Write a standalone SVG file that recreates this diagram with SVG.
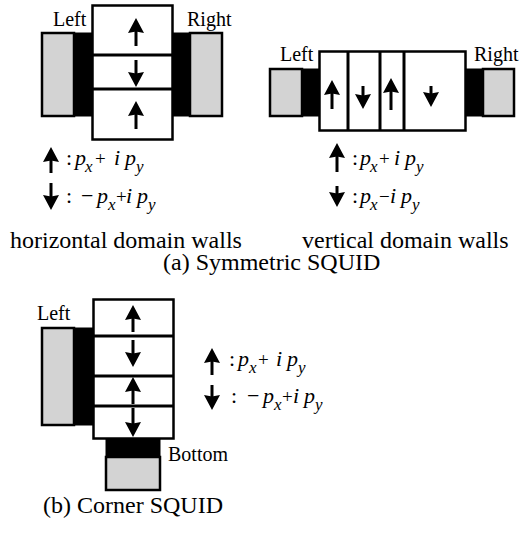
<svg xmlns="http://www.w3.org/2000/svg" width="519" height="533" viewBox="0 0 519 533">
<style>
.box{fill:#fff;stroke:#000;stroke-width:2.5}
.wall{stroke:#000;stroke-width:3}
.gray{fill:#d3d3d3;stroke:#000;stroke-width:2.5}
.blk{fill:#000;stroke:#000;stroke-width:1}
.arr{stroke:#000;stroke-width:3;marker-end:url(#ah)}
text{font-family:"Liberation Serif","Times New Roman",serif;fill:#000}
.lbl{font-size:20px}
.ttl{font-size:24px}
.eq{font-size:22px}
.it{font-style:italic}
.sub{font-style:italic;font-size:17px}
.op{font-size:19px}
</style>
<defs>
<marker id="ah" viewBox="0 0 15 16" refX="6" refY="8" markerWidth="15" markerHeight="16" markerUnits="userSpaceOnUse" orient="auto">
<path d="M0,0 L15,8 L0,16 L1.5,8 z" fill="#000"/>
</marker>
</defs>

<!-- (a) horizontal domain walls -->
<g id="a-left-lead">
<rect class="blk" x="74" y="33" width="18" height="83"/>
<rect class="gray" x="42" y="33" width="32" height="83"/>
<text class="lbl" x="53" y="26">Left</text>
</g>
<g id="a-right-lead">
<rect class="blk" x="172" y="33" width="18" height="83"/>
<rect class="gray" x="190" y="33" width="32" height="83"/>
<text class="lbl" x="187" y="26">Right</text>
</g>
<g id="a-horizontal-junction">
<rect class="box" x="92.5" y="5.5" width="80" height="134"/>
<line class="wall" x1="92" y1="55" x2="172" y2="55"/>
<line class="wall" x1="92" y1="89" x2="172" y2="89"/>
</g>

<!-- (a) vertical domain walls -->
<g id="a2-left-lead">
<rect class="blk" x="302" y="69" width="17" height="47"/>
<rect class="gray" x="270" y="69" width="32" height="47"/>
<text class="lbl" x="280" y="61">Left</text>
</g>
<g id="a2-right-lead">
<rect class="blk" x="465" y="69" width="18" height="47"/>
<rect class="gray" x="483" y="69" width="31" height="47"/>
<text class="lbl" x="474" y="61">Right</text>
</g>
<g id="a2-vertical-junction">
<rect class="box" x="319.5" y="51.5" width="146" height="79"/>
<line class="wall" x1="348" y1="51" x2="348" y2="131"/>
<line class="wall" x1="380" y1="51" x2="380" y2="131"/>
<line class="wall" x1="404" y1="51" x2="404" y2="131"/>
</g>

<!-- (b) corner SQUID -->
<g id="b-left-lead">
<rect class="blk" x="74" y="328" width="19" height="97"/>
<rect class="gray" x="42" y="328" width="32" height="97"/>
<text class="lbl" x="37" y="320">Left</text>
</g>
<g id="b-bottom-lead">
<rect class="blk" x="106" y="439" width="54" height="18"/>
<rect class="gray" x="106" y="457" width="54" height="33"/>
<text class="lbl" x="168" y="461">Bottom</text>
</g>
<g id="b-junction">
<rect class="box" x="93.5" y="299.5" width="80" height="139"/>
<line class="wall" x1="93" y1="336" x2="174" y2="336"/>
<line class="wall" x1="93" y1="376" x2="174" y2="376"/>
<line class="wall" x1="93" y1="406" x2="174" y2="406"/>
</g>

<g id="arrows">
<!-- a left -->
<line class="arr" x1="136" y1="46" x2="136" y2="27"/>
<line class="arr" x1="136" y1="60" x2="136" y2="78"/>
<line class="arr" x1="136" y1="129" x2="136" y2="110"/>
<!-- a right -->
<line class="arr" x1="332" y1="109" x2="332" y2="89"/>
<line class="arr" x1="363" y1="86" x2="363" y2="100"/>
<line class="arr" x1="391" y1="110" x2="391" y2="87"/>
<line class="arr" x1="431" y1="86" x2="431" y2="98"/>
<!-- b -->
<line class="arr" x1="133" y1="332" x2="133" y2="314"/>
<line class="arr" x1="133" y1="340" x2="133" y2="358"/>
<line class="arr" x1="133" y1="404" x2="133" y2="386"/>
<line class="arr" x1="133" y1="408" x2="133" y2="428"/>
<!-- legends -->
<line class="arr" x1="51" y1="173" x2="51" y2="156"/>
<line class="arr" x1="51" y1="183" x2="51" y2="201"/>
<line class="arr" x1="337" y1="172" x2="337" y2="152"/>
<line class="arr" x1="337" y1="186" x2="337" y2="198"/>
<line class="arr" x1="212" y1="375" x2="212" y2="357"/>
<line class="arr" x1="212" y1="385" x2="212" y2="401"/>
</g>

<g id="legend-a-left">
<text class="eq" y="165"><tspan x="66">:</tspan><tspan class="it" x="75">p</tspan><tspan class="sub" x="85" y="172">x</tspan><tspan class="op" x="95" y="165">+</tspan><tspan class="it" x="114">i</tspan><tspan class="it" x="125">p</tspan><tspan class="sub" x="136" y="172">y</tspan></text>
<text class="eq" y="203"><tspan x="66">:</tspan><tspan x="81">−</tspan><tspan class="it" x="97">p</tspan><tspan class="sub" x="108" y="210">x</tspan><tspan class="op" x="116" y="203">+</tspan><tspan class="it" x="126">i</tspan><tspan class="it" x="137">p</tspan><tspan class="sub" x="148" y="210">y</tspan></text>
</g>
<g id="legend-a-right">
<text class="eq" y="165"><tspan x="352">:</tspan><tspan class="it" x="360">p</tspan><tspan class="sub" x="370" y="172">x</tspan><tspan class="op" x="379" y="165">+</tspan><tspan class="it" x="394">i</tspan><tspan class="it" x="405">p</tspan><tspan class="sub" x="416" y="172">y</tspan></text>
<text class="eq" y="203"><tspan x="352">:</tspan><tspan class="it" x="360">p</tspan><tspan class="sub" x="370" y="210">x</tspan><tspan class="op" x="379" y="203">−</tspan><tspan class="it" x="390">i</tspan><tspan class="it" x="401">p</tspan><tspan class="sub" x="412" y="210">y</tspan></text>
</g>
<g id="legend-b">
<text class="eq" y="366"><tspan x="229">:</tspan><tspan class="it" x="238">p</tspan><tspan class="sub" x="249" y="373">x</tspan><tspan class="op" x="258" y="366">+</tspan><tspan class="it" x="276">i</tspan><tspan class="it" x="287">p</tspan><tspan class="sub" x="298" y="373">y</tspan></text>
<text class="eq" y="403"><tspan x="231">:</tspan><tspan x="247">−</tspan><tspan class="it" x="263">p</tspan><tspan class="sub" x="274" y="410">x</tspan><tspan class="op" x="282" y="403">+</tspan><tspan class="it" x="293">i</tspan><tspan class="it" x="304">p</tspan><tspan class="sub" x="315" y="410">y</tspan></text>
</g>

<g id="captions">
<text class="ttl" x="10" y="248">horizontal domain walls</text>
<text class="ttl" x="302" y="248">vertical domain walls</text>
<text class="ttl" x="163" y="270">(a) Symmetric SQUID</text>
<text class="ttl" x="43" y="513">(b) Corner SQUID</text>
</g>
</svg>
